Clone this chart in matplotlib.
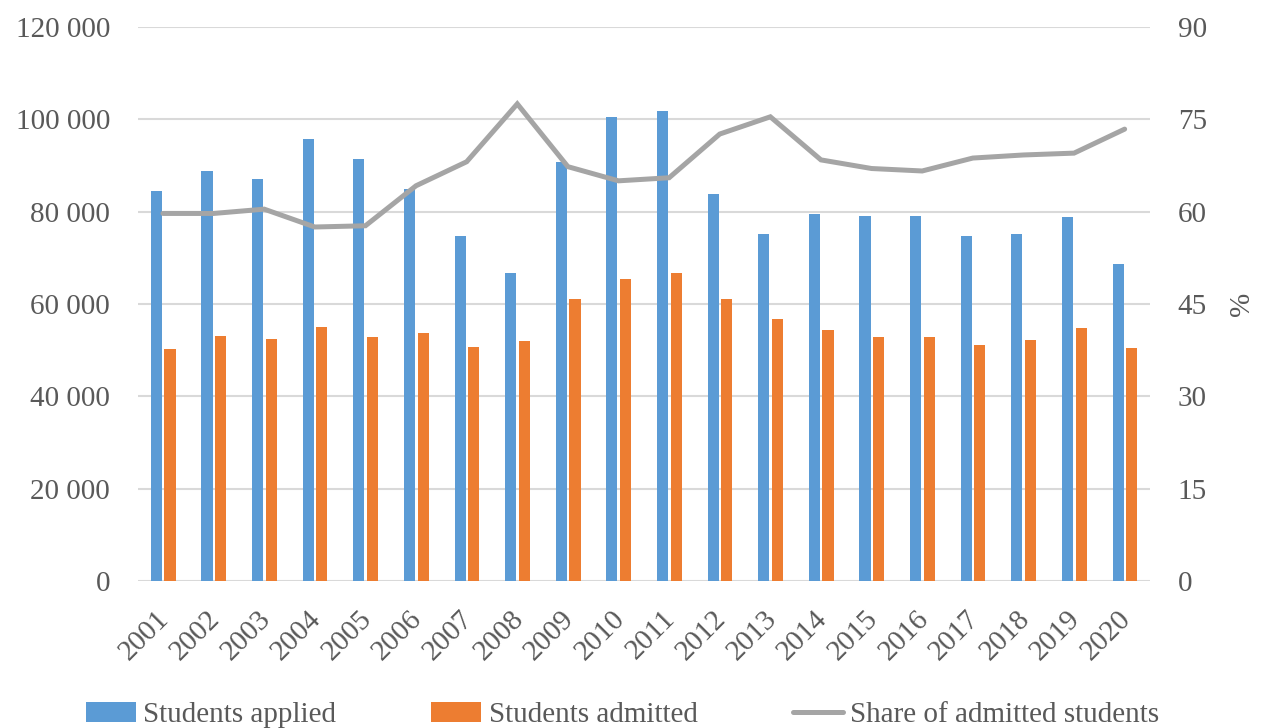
import numpy as np
import matplotlib.pyplot as plt
from matplotlib.ticker import FuncFormatter
from matplotlib.transforms import ScaledTranslation

plt.rcParams['font.family'] = ['Liberation Serif', 'DejaVu Serif']

years = [str(y) for y in range(2001, 2021)]
applied = [84500, 88900, 87000, 95800, 91300, 84800, 74700, 66600, 90700, 100500,
           101700, 83800, 75200, 79400, 79100, 79100, 74700, 75200, 78800, 68600]
admitted = [50200, 53100, 52500, 55000, 52800, 53600, 50600, 51900, 61100, 65300,
            66600, 61100, 56700, 54400, 52800, 52800, 51000, 52200, 54700, 50500]
share = [59.7, 59.7, 60.4, 57.5, 57.7, 64.2, 68.1, 77.5, 67.3, 65.0,
         65.5, 72.6, 75.4, 68.4, 67.0, 66.6, 68.7, 69.2, 69.5, 73.4]

blue = '#5b9bd5'
orange = '#ed7d31'
grey = '#a5a5a5'
txt = '#595959'
fs = 21

fig = plt.figure(figsize=(12.63, 7.28), dpi=100)
ax = fig.add_axes([0.109, 0.202, 0.8015, 0.761])
ax2 = ax.twinx()

x = np.arange(len(years))
w = 0.22
ax.bar(x - 0.13, applied, w, color=blue, label='Students applied', zorder=2)
ax.bar(x + 0.14, admitted, w, color=orange, label='Students admitted', zorder=2)
ax2.plot(x, share, color=grey, lw=3.6, label='Share of admitted students',
         solid_capstyle='round', solid_joinstyle='miter')

ax.set_xlim(-0.5, len(years) - 0.5)
ax.set_ylim(0, 120000)
ax.set_yticks(np.arange(0, 120001, 20000))
ax.yaxis.set_major_formatter(FuncFormatter(lambda v, p: f'{int(v):,}'.replace(',', ' ')))
ax2.set_ylim(0, 90)
ax2.set_yticks(np.arange(0, 91, 15))

ax.grid(axis='y', color='#d9d9d9', lw=1.5, zorder=0)
ax.set_axisbelow(True)
for a in (ax, ax2):
    for s in a.spines.values():
        s.set_visible(False)
    a.tick_params(length=0, labelsize=fs, colors=txt)
ax.tick_params(axis='y', pad=20)
ax2.tick_params(axis='y', pad=20)

ax.set_xticks(x)
ax.set_xticklabels(years, rotation=45, ha='right', rotation_mode='anchor')
ax.tick_params(axis='x', pad=18)
shift = ScaledTranslation(-5 / 72, 0, fig.dpi_scale_trans)
for lab in ax.get_xticklabels():
    lab.set_transform(lab.get_transform() + shift)

ax2.set_ylabel('%', fontsize=fs, color=txt, rotation=90, labelpad=16)

h1, l1 = ax.get_legend_handles_labels()
h2, l2 = ax2.get_legend_handles_labels()
fig.legend(h1 + h2, l1 + l2, loc='center', bbox_to_anchor=(0.493, 0.018), ncol=3,
           frameon=False, fontsize=fs, labelcolor=txt, columnspacing=3.25,
           handlelength=1.71, handletextpad=0.27)

fig.savefig('out.png', dpi=100)
